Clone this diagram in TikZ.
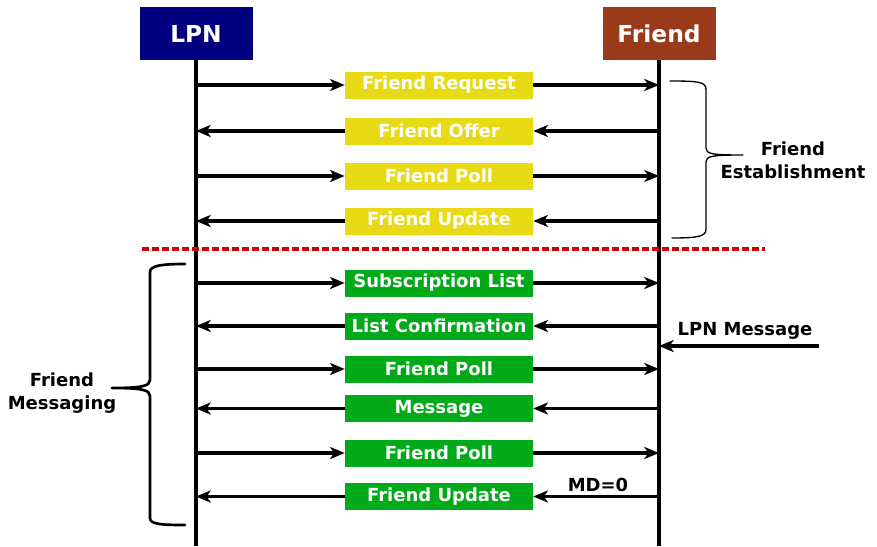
\documentclass[tikz,border=0pt]{standalone}
\usepackage{fontspec}
\setmainfont{DejaVu Sans}
\usetikzlibrary{arrows.meta}

\definecolor{lpnblue}{RGB}{0,0,128}
\definecolor{friendbrown}{RGB}{153,59,26}
\definecolor{estyellow}{RGB}{232,219,22}
\definecolor{msggreen}{RGB}{0,170,25}
\definecolor{sepred}{RGB}{210,0,0}

\begin{document}
\begin{tikzpicture}[x=0.75pt,y=-0.75pt,
	head/.style={fill=#1, text=white, font=\fontsize{17.5}{21}\selectfont\bfseries, minimum width=84.75pt, minimum height=39.75pt, inner sep=0pt},
	msgbox/.style={fill=#1, text=white, font=\fontsize{13.5}{16}\selectfont\bfseries, minimum width=141pt, minimum height=20.25pt, inner sep=0pt},
	lbl/.style={font=\fontsize{13.5}{17.5}\selectfont\bfseries, align=center},
	life/.style={line width=2.6pt},
	msg/.style={line width=2.3pt, -{Stealth[length=11pt,width=9pt,inset=3pt]}},
	brace/.style={line width=#1, line cap=round, line join=round}]
	\useasboundingbox (0,0) rectangle (877,546);

	% entities and life lines
	\node[head=lpnblue] (lpn) at (196,33.5) {LPN};
	\node[head=friendbrown] (friend) at (659,33.5) {Friend};
	\coordinate (lpnend) at (196,546);
	\coordinate (friendend) at (659,546);
	\draw[life] (lpn) -- (lpnend);
	\draw[life] (friend) -- (friendend);

	% friend establishment
	\node[msgbox=estyellow] (req) at (439,85) {Friend Request};
	\node[msgbox=estyellow] (offer) at (439,131) {Friend Offer};
	\node[msgbox=estyellow] (poll1) at (439,176) {Friend Poll};
	\node[msgbox=estyellow] (upd1) at (439,221) {Friend Update};

	\draw[msg] (req.west -| lpn) -- (req.west);
	\draw[msg] (req.east) -- (req.east -| friend);
	\draw[msg] (offer.east -| friend) -- (offer.east);
	\draw[msg] (offer.west) -- (offer.west -| lpn);
	\draw[msg] (poll1.west -| lpn) -- (poll1.west);
	\draw[msg] (poll1.east) -- (poll1.east -| friend);
	\draw[msg] (upd1.east -| friend) -- (upd1.east);
	\draw[msg] (upd1.west) -- (upd1.west -| lpn);

	% separator
	\draw[sepred, line width=2.5pt, dash pattern=on 5pt off 2.5pt] (142,249) -- (765,249);

	% friend messaging
	\node[msgbox=msggreen] (sub) at (439,283) {Subscription List};
	\node[msgbox=msggreen] (conf) at (439,326) {List Confirmation};
	\node[msgbox=msggreen] (poll2) at (439,369) {Friend Poll};
	\node[msgbox=msggreen] (mess) at (439,408.5) {Message};
	\node[msgbox=msggreen] (poll3) at (439,453) {Friend Poll};
	\node[msgbox=msggreen] (upd2) at (439,496.5) {Friend Update};

	\draw[msg] (sub.west -| lpn) -- (sub.west);
	\draw[msg] (sub.east) -- (sub.east -| friend);
	\draw[msg] (conf.east -| friend) -- (conf.east);
	\draw[msg] (conf.west) -- (conf.west -| lpn);
	\draw[msg] (poll2.west -| lpn) -- (poll2.west);
	\draw[msg] (poll2.east) -- (poll2.east -| friend);
	\draw[msg] (mess.east -| friend) -- (mess.east);
	\draw[msg] (mess.west) -- (mess.west -| lpn);
	\draw[msg] (poll3.west -| lpn) -- (poll3.west);
	\draw[msg] (poll3.east) -- (poll3.east -| friend);
	\draw[msg] (upd2.east -| friend) -- (upd2.east);
	\draw[msg] (upd2.west) -- (upd2.west -| lpn);

	% incoming message from outside
	\coordinate (outside) at (819,346);
	\draw[msg] (outside) -- (outside -| friend);
	\node[lbl] (lpnmsg) at (745,331) {LPN Message};
	\node[lbl] (md) at (598,485) {MD=0};

	% braces and their labels
	\draw[brace=1pt] (670,81) .. controls (700,81) and (706,82) .. (706,90) -- (706,148)
		.. controls (706,154) and (712,155) .. (743,155)
		.. controls (712,155) and (706,156) .. (706,162) -- (706,229)
		.. controls (706,236) and (700,238) .. (672,238);
	\node[lbl] (est) at (793,160) {Friend\\Establishment};

	\draw[brace=2pt] (185,264) .. controls (160,264) and (150,266) .. (150,272) -- (150,380)
		.. controls (150,386) and (142,388) .. (112,388)
		.. controls (142,388) and (150,390) .. (150,396) -- (150,518)
		.. controls (150,524) and (160,525) .. (185,525);
	\node[lbl] (fmsg) at (62,393) {Friend\\Messaging};
\end{tikzpicture}
\end{document}
